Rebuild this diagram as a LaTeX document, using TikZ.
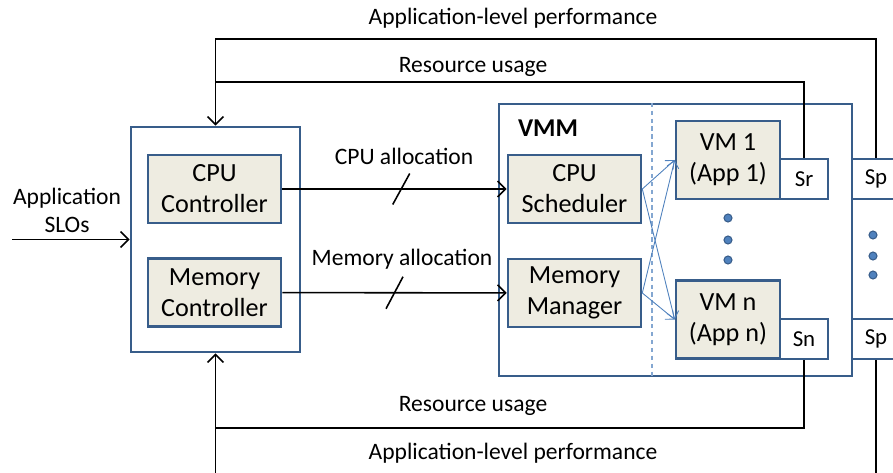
\documentclass[tikz,border=0pt]{standalone}
\usepackage{fontspec}
\setmainfont{Carlito}
\usetikzlibrary{arrows.meta}
\definecolor{boxline}{HTML}{385D8A}
\definecolor{boxfill}{HTML}{EEECE1}
\definecolor{vmblue}{HTML}{4F81BD}
\begin{document}
\begin{tikzpicture}[x=0.02cm, y=-0.02cm]
    \tikzstyle{every node}=[align=center, font=\fontsize{13.4}{16}\selectfont];
    \tikzstyle{outer} = [draw=boxline, line width=1.5pt, inner sep=0pt]
    \tikzstyle{block} = [draw=boxline, line width=1.5pt, fill=boxfill, inner sep=0pt, minimum width=2.66cm, minimum height=1.36cm, font=\fontsize{14.9}{17.6}\selectfont]
    \tikzstyle{vmbox} = [block, minimum width=2.08cm, minimum height=1.56cm]
    \tikzstyle{sensor} = [draw=boxline, line width=1.5pt, fill=white, inner sep=0pt, minimum width=0.96cm, minimum height=0.8cm, font=\fontsize{13}{15}\selectfont]
    \tikzstyle{flow} = [-{Straight Barb[length=1.6mm, width=3.2mm]}, line width=0.9pt]
    \tikzstyle{vmflow} = [-{Straight Barb[length=1.4mm, width=2.4mm]}, draw=vmblue, line width=0.5pt]
    \tikzstyle{dot} = [circle, fill=vmblue, draw=boxline, line width=0.6pt, inner sep=0pt, minimum size=0.16cm]

    \useasboundingbox (0,0) rectangle (893,473);
    \clip (0,0) rectangle (893,473);

    % controller side
    \node[outer, minimum width=3.38cm, minimum height=4.5cm] (ctrl) at (215.5,239.5) {};
    \node[block] (cpuctl) at (214.5,189) {CPU\\Controller};
    \node[block] (memctl) at (214.5,292.5) {Memory\\Controller};

    % VMM side
    \node[outer, minimum width=7.06cm, minimum height=5.44cm] (vmm) at (675.5,240) {};
    \node[font=\fontsize{14.6}{17}\selectfont\bfseries] (vmmlabel) at (548,128) {VMM};
    \draw[draw=vmblue!70, line width=0.8pt, dash pattern=on 2.5pt off 2pt] (vmm.north -| 652,0) -- (vmm.south -| 652,0);
    \node[block] (sched) at (574.5,189) {CPU\\Scheduler};
    \node[block] (memmgr) at (574.5,293) {Memory\\Manager};
    \node[vmbox] (vm1) at (728,160) {VM 1\\(App 1)};
    \node[vmbox] (vmn) at (728,319.5) {VM n\\(App n)};
    \node[sensor] (sr) at (804,179) {Sr};
    \node[sensor] (sn) at (804,339) {Sn};
    \node[sensor] (sp1) at (876,179) {Sp};
    \node[sensor] (spn) at (876,339) {Sp};

    \foreach \y in {218,240,260} \node[dot] at (728,\y) {};
    \foreach \y in {235,256,275} \node[dot] at (873,\y) {};

    % inputs
    \node (slos) at (67,210) {Application\\SLOs};
    \coordinate (sloin) at (12,239.5);
    \draw[flow] (sloin) -- (ctrl);

    % allocations
    \draw[flow] (cpuctl) -- coordinate[pos=0.53] (cpumid) (sched);
    \draw[line width=0.9pt] ([shift={(-8.5,15.5)}]cpumid) -- ([shift={(8.5,-15.5)}]cpumid);
    \node (cpualloc) at (404,156) {CPU allocation};
    \draw[flow] (memctl) -- coordinate[pos=0.5] (memmid) (memmgr);
    \draw[line width=0.9pt] ([shift={(-8.5,16)}]memmid) -- ([shift={(8.5,-16)}]memmid);
    \node (memalloc) at (402,259) {Memory allocation};

    \draw[vmflow] (sched.east) -- (vm1.west);
    \draw[vmflow] (sched.east) -- (vmn.west);
    \draw[vmflow] (memmgr.east) -- (vm1.west);
    \draw[vmflow] (memmgr.east) -- (vmn.west);

    % feedback loops
    \draw[flow] (sp1.north) |- (ctrl.north |- 0,39) -- (ctrl.north);
    \draw[line width=0.9pt] (sr.north) |- (ctrl.north |- 0,82);
    \draw[flow] (spn.south) |- (ctrl.south |- 0,476) -- (ctrl.south);
    \draw[line width=0.9pt] (sn.south) |- (ctrl.south |- 0,428);
    \node (perftop) at (513,18) {Application-level performance};
    \node (usetop) at (473,67) {Resource usage};
    \node (usebot) at (473,406) {Resource usage};
    \node (perfbot) at (513,453) {Application-level performance};

\end{tikzpicture}
\end{document}
